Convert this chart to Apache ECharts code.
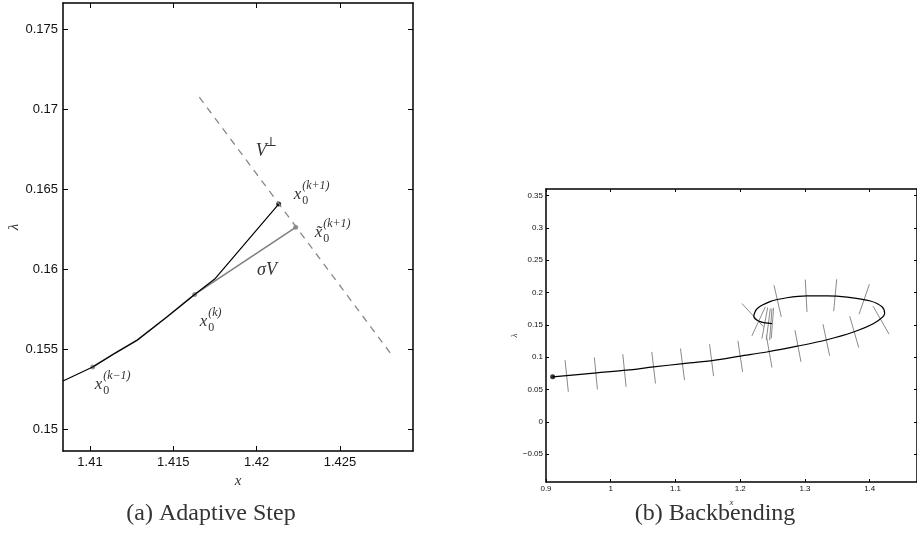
<!doctype html>
<html>
<head>
    <meta charset="utf-8">
    <title>Adaptive Step / Backbending</title>
    <script src="https://cdn.jsdelivr.net/npm/echarts@6/dist/echarts.min.js"></script>
    <style>
        html, body { margin: 0; padding: 0; background: #fff; }
        #main { width: 917px; height: 544px; }
    </style>
</head>
<body>
    <div id="main"></div>
    <script type="text/javascript">
        // (a) Adaptive Step - axis ranges and ticks
        var stepXRange = [1.40838, 1.42938];
        var stepYRange = [0.14867, 0.17663];
        var stepXTicks = [1.41, 1.415, 1.42, 1.425];
        var stepYTicks = [0.15, 0.155, 0.16, 0.165, 0.17, 0.175];

        // corrector path (black)
        var pathX = [1.40838, 1.41016, 1.41152, 1.41282, 1.41462, 1.41628, 1.41752, 1.42132];
        var pathY = [0.15304, 0.15391, 0.15479, 0.15558, 0.15704, 0.15844, 0.15944, 0.16408];
        // predictor (grey): x0^(k-1) -> x0^(k) -> tilde x0^(k+1)
        var predX = [1.41016, 1.41152, 1.41282, 1.41462, 1.41628, 1.42234];
        var predY = [0.15391, 0.15479, 0.15558, 0.15704, 0.15844, 0.16263];
        // grey dots: x0^(k-1), x0^(k), tilde x0^(k+1)
        var greyDotX = [1.41016, 1.41628, 1.42234];
        var greyDotY = [0.15391, 0.15844, 0.16263];
        // black dot: x0^(k+1)
        var newDot = [1.42132, 0.16408];
        // hyperplane V-perp (dashed)
        var perpX = [1.41656, 1.42819];
        var perpY = [0.17075, 0.15454];
        // text anchors
        var sigmaVAt = [1.42062, 0.15996];
        var vPerpAt = [1.42042, 0.16735];

        // (b) Backbending
        var bendXRange = [0.9, 1.473];
        var bendYRange = [-0.0932, 0.3603];
        var bendXTicks = [0.9, 1, 1.1, 1.2, 1.3, 1.4];
        var bendYTicks = [-0.05, 0, 0.05, 0.1, 0.15, 0.2, 0.25, 0.3, 0.35];

        var curveX = [0.9103, 0.9784, 1.0247, 1.066, 1.112, 1.159, 1.2, 1.241, 1.288, 1.334, 1.375, 1.406, 1.423,
            1.419, 1.401, 1.365, 1.334, 1.303, 1.272, 1.246, 1.226, 1.221, 1.228, 1.239, 1.249];
        var curveY = [0.0696, 0.0758, 0.0799, 0.085, 0.090, 0.095, 0.1016, 0.108, 0.117, 0.127, 0.139, 0.152, 0.1675,
            0.178, 0.187, 0.193, 0.195, 0.195, 0.192, 0.186, 0.175, 0.163, 0.156, 0.153, 0.152];
        var startDot = [0.9103, 0.0696];
        // short grey segments crossing the curve: [x0, y0, x1, y1]
        var normalSegs = [
            [0.9294, 0.0954, 0.9345, 0.0464],
            [0.9747, 0.0995, 0.9794, 0.0500],
            [1.0186, 0.1046, 1.0237, 0.0541],
            [1.0634, 0.1082, 1.0691, 0.0593],
            [1.1077, 0.1134, 1.1139, 0.0644],
            [1.1526, 0.1201, 1.1588, 0.0706],
            [1.1964, 0.1253, 1.2036, 0.0773],
            [1.2402, 0.1340, 1.2490, 0.0840],
            [1.2845, 0.1418, 1.2938, 0.0928],
            [1.3278, 0.1510, 1.3381, 0.1021],
            [1.3691, 0.1634, 1.3830, 0.1149],
            [1.4052, 0.1789, 1.4299, 0.1356],
            [1.3995, 0.2129, 1.3835, 0.1665],
            [1.3490, 0.2206, 1.3443, 0.1711],
            [1.3005, 0.2201, 1.3031, 0.1701],
            [1.2521, 0.2113, 1.2634, 0.1624],
            [1.2026, 0.1830, 1.2361, 0.1469],
            [1.2387, 0.1778, 1.2180, 0.1330],
            [1.2423, 0.1768, 1.2335, 0.1289],
            [1.2464, 0.1753, 1.2402, 0.1263],
            [1.2490, 0.1753, 1.2454, 0.1263],
            [1.2515, 0.1763, 1.2479, 0.1289]
        ];

        function zip(xs, ys) {
            return xs.map(function (x, i) { return [x, ys[i]]; });
        }
        function fmt(v) {
            return String(parseFloat((+v).toFixed(4))).replace('-', '\u2212');
        }

        var sans = '"Liberation Sans", Arial, sans-serif';
        var serif = '"Liberation Serif", "DejaVu Serif", serif';

        function makeAxis(kind, grid, range, ticks, pos, labelSize, tickLen, name, nameGap, nameSize) {
            var ax = {
                type: 'value',
                gridIndex: grid,
                position: pos,
                min: range[0],
                max: range[1],
                splitLine: { show: false },
                axisLine: { show: true, onZero: false, lineStyle: { color: '#000', width: 1.5 } },
                axisTick: { show: true, inside: true, length: tickLen, customValues: ticks, lineStyle: { color: '#000', width: 1 } },
                axisLabel: {
                    show: !!labelSize,
                    customValues: ticks,
                    formatter: fmt,
                    color: '#111',
                    fontFamily: sans,
                    fontSize: labelSize || 10,
                    margin: labelSize > 10 ? 5 : 3
                }
            };
            if (name) {
                ax.name = name;
                ax.nameLocation = 'middle';
                ax.nameGap = nameGap;
                ax.nameTextStyle = { fontFamily: serif, fontStyle: 'italic', fontSize: nameSize, color: '#333' };
                if (kind === 'y') ax.nameRotate = 90;
            }
            return ax;
        }

        var myChart = echarts.init(document.getElementById('main'), null, { renderer: 'canvas' });

        var option = {
            animation: false,
            backgroundColor: '#fff',
            grid: [
                { left: 63, top: 3, width: 350, height: 448 },
                { left: 546, top: 189, width: 371, height: 293 }
            ],
            xAxis: [
                makeAxis('x', 0, stepXRange, stepXTicks, 'bottom', 13, 5, 'x', 14, 15),
                makeAxis('x', 0, stepXRange, stepXTicks, 'top', 0, 5),
                makeAxis('x', 1, bendXRange, bendXTicks, 'bottom', 8, 3, 'x', 8, 9),
                makeAxis('x', 1, bendXRange, bendXTicks, 'top', 0, 3)
            ],
            yAxis: [
                makeAxis('y', 0, stepYRange, stepYTicks, 'left', 13, 5, '\u03bb', 35, 15),
                makeAxis('y', 0, stepYRange, stepYTicks, 'right', 0, 5),
                makeAxis('y', 1, bendYRange, bendYTicks, 'left', 8, 3, '\u03bb', 24, 9),
                makeAxis('y', 1, bendYRange, bendYTicks, 'right', 0, 3)
            ],
            series: [
                {
                    name: 'perp', type: 'line', xAxisIndex: 0, yAxisIndex: 0,
                    data: zip(perpX, perpY), showSymbol: false,
                    lineStyle: { color: '#888', width: 1.3, type: [7, 6] }
                },
                {
                    name: 'predictor', type: 'line', xAxisIndex: 0, yAxisIndex: 0,
                    data: zip(predX, predY), showSymbol: false,
                    lineStyle: { color: '#808080', width: 1.6 }
                },
                {
                    name: 'path', type: 'line', xAxisIndex: 0, yAxisIndex: 0,
                    data: zip(pathX, pathY), showSymbol: false,
                    lineStyle: { color: '#000', width: 1.2 }
                },
                {
                    name: 'greyDots', type: 'scatter', xAxisIndex: 0, yAxisIndex: 0,
                    data: zip(greyDotX, greyDotY), symbolSize: 5,
                    itemStyle: { color: '#808080' }
                },
                {
                    name: 'newDot', type: 'scatter', xAxisIndex: 0, yAxisIndex: 0,
                    data: [newDot], symbolSize: 5,
                    itemStyle: { color: '#000' }
                },
                {
                    name: 'normals', type: 'lines', coordinateSystem: 'cartesian2d',
                    xAxisIndex: 2, yAxisIndex: 2,
                    data: normalSegs.map(function (s) { return { coords: [[s[0], s[1]], [s[2], s[3]]] }; }),
                    lineStyle: { color: '#8a8a8a', width: 1, opacity: 1 }
                },
                {
                    name: 'curve', type: 'line', xAxisIndex: 2, yAxisIndex: 2,
                    data: zip(curveX, curveY), showSymbol: false, smooth: 0.3,
                    lineStyle: { color: '#000', width: 1.2 }
                },
                {
                    name: 'start', type: 'scatter', xAxisIndex: 2, yAxisIndex: 2,
                    data: [startDot], symbolSize: 5,
                    itemStyle: { color: '#000' }
                }
            ]
        };

        myChart.setOption(option);

        // math style annotations, placed from the data anchors
        function mathLabel(p, dx, dy, base, sub, sup, fs) {
            var x = p[0] + dx, y = p[1] + dy;
            var bw = fs * 0.5;
            var els = [{
                type: 'text', x: x, y: y,
                style: { text: base, font: 'italic ' + fs + 'px ' + serif, fill: '#333', align: 'left', verticalAlign: 'middle', textAlign: 'left', textVerticalAlign: 'middle' }
            }];
            if (sub) els.push({
                type: 'text', x: x + bw, y: y + fs * 0.38,
                style: { text: sub, font: Math.round(fs * 0.7) + 'px ' + serif, fill: '#333', align: 'left', verticalAlign: 'middle', textAlign: 'left', textVerticalAlign: 'middle' }
            });
            if (sup) els.push({
                type: 'text', x: x + bw, y: y - fs * 0.5,
                style: { text: sup, font: (sup.indexOf('(') === 0 ? 'italic ' : '') + Math.round(fs * 0.7) + 'px ' + serif, fill: '#333', align: 'left', verticalAlign: 'middle', textAlign: 'left', textVerticalAlign: 'middle' }
            });
            return els;
        }
        function px(pt) {
            return myChart.convertToPixel({ gridIndex: 0 }, pt);
        }

        var graphics = [];
        graphics = graphics.concat(mathLabel(px([greyDotX[0], greyDotY[0]]), 2, 17, 'x', '0', '(k\u22121)', 17));
        graphics = graphics.concat(mathLabel(px([greyDotX[1], greyDotY[1]]), 5, 27, 'x', '0', '(k)', 17));
        graphics = graphics.concat(mathLabel(px([greyDotX[2], greyDotY[2]]), 19, 5, 'x\u0303', '0', '(k+1)', 17));
        graphics = graphics.concat(mathLabel(px(newDot), 15, -10, 'x', '0', '(k+1)', 17));
        graphics = graphics.concat(mathLabel(px(sigmaVAt), -10, 0, '\u03c3V', null, null, 18));
        graphics = graphics.concat(mathLabel(px(vPerpAt), -8, 0, 'V', null, '\u22a5', 18));

        // sub-figure captions
        graphics.push({
            type: 'text', x: 211, y: 514,
            style: { text: '(a) Adaptive Step', font: '24px ' + serif, fill: '#333', align: 'center', verticalAlign: 'middle', textAlign: 'center', textVerticalAlign: 'middle' }
        });
        graphics.push({
            type: 'text', x: 715, y: 514,
            style: { text: '(b) Backbending', font: '24px ' + serif, fill: '#333', align: 'center', verticalAlign: 'middle', textAlign: 'center', textVerticalAlign: 'middle' }
        });

        myChart.setOption({ graphic: graphics });
    </script>
</body>
</html>
